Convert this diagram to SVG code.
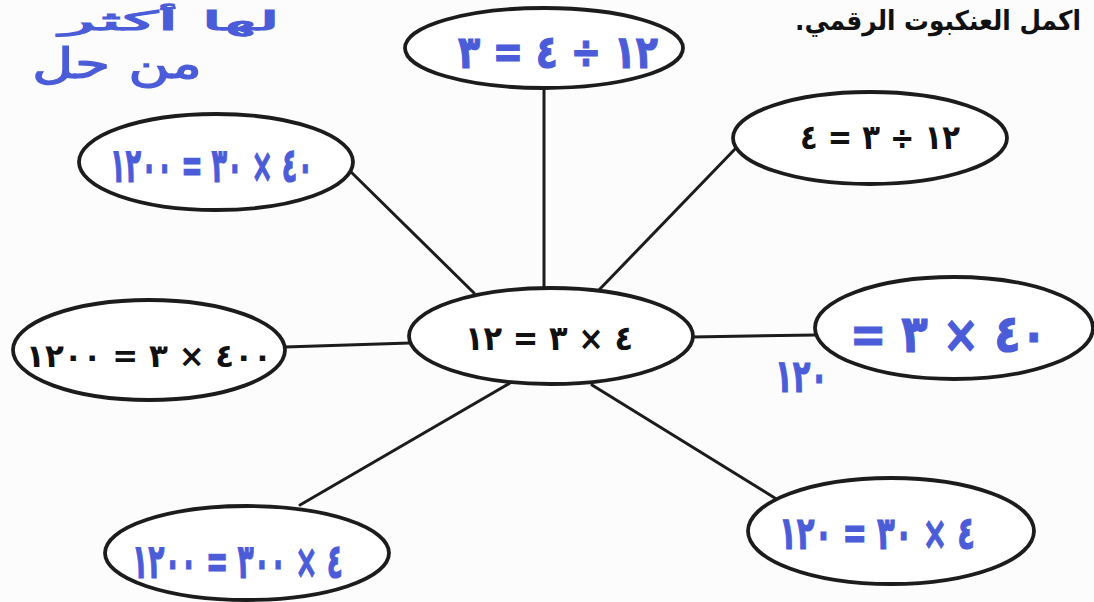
<svg xmlns="http://www.w3.org/2000/svg" width="1094" height="602" viewBox="0 0 1094 602">
<style>
.node{fill:#ffffff;stroke:#1c1c1c;stroke-width:3.8}
.conn line{stroke:#1c1c1c;stroke-width:3;stroke-linecap:round}
.pr{font-family:"DejaVu Sans","Liberation Sans",sans-serif;font-weight:bold;fill:#111;unicode-bidi:bidi-override;direction:ltr}
.hw{font-family:"DejaVu Sans","Liberation Sans",sans-serif;font-weight:bold;fill:#4b5cd8;stroke:#4b5cd8;stroke-width:1.2;unicode-bidi:bidi-override;direction:ltr}
.hwa{font-family:"DejaVu Sans",sans-serif;fill:#4b5cd8;stroke:#4b5cd8;stroke-width:1.2}
.title{font-family:"DejaVu Sans","Liberation Sans",sans-serif;font-weight:bold;fill:#111}
</style>
<rect width="1094" height="602" fill="#fcfcfc"/>
<g id="connectors" class="conn">
<line x1="544" y1="88" x2="544" y2="288"/>
<line x1="349" y1="170" x2="474" y2="293"/>
<line x1="736" y1="148" x2="598" y2="291"/>
<line x1="285" y1="347" x2="410" y2="343"/>
<line x1="692" y1="337" x2="816" y2="335"/>
<line x1="510" y1="383" x2="300" y2="505"/>
<line x1="592" y1="385" x2="778" y2="500"/>
</g>
<g id="title">
<text class="title" x="938" y="30" font-size="27" text-anchor="middle" direction="rtl" textLength="286" lengthAdjust="spacingAndGlyphs">اكمل العنكبوت الرقمي.</text>
</g>
<g id="note">
<text class="hwa" x="170" y="30" font-size="26" text-anchor="middle" direction="rtl" textLength="220" lengthAdjust="spacingAndGlyphs">لها أكثر</text>
<text class="hwa" x="117" y="78" font-size="42" text-anchor="middle" direction="rtl" textLength="170" lengthAdjust="spacingAndGlyphs">من حل</text>
</g>
<g id="node-top">
<ellipse class="node" cx="544" cy="48" rx="139" ry="40"/>
<text class="hw" x="458" y="68" font-size="46" textLength="200" lengthAdjust="spacingAndGlyphs">٣ = ٤ ÷ ١٢</text>
</g>
<g id="node-top-right">
<ellipse class="node" cx="870" cy="138" rx="137" ry="46"/>
<text class="pr" x="800" y="149" font-size="34" textLength="160" lengthAdjust="spacingAndGlyphs">٤ = ٣ ÷ ١٢</text>
</g>
<g id="node-top-left">
<ellipse class="node" cx="216" cy="162" rx="137" ry="48"/>
<text class="hw" x="110" y="182" font-size="48" textLength="203" lengthAdjust="spacingAndGlyphs">١٢٠٠ = ٣٠ × ٤٠</text>
</g>
<g id="node-left">
<ellipse class="node" cx="149" cy="350" rx="136" ry="50"/>
<text class="pr" x="26" y="367" font-size="32" textLength="246" lengthAdjust="spacingAndGlyphs">١٢٠٠ = ٣ × ٤٠٠</text>
</g>
<g id="node-center">
<ellipse class="node" cx="551" cy="336" rx="142" ry="48"/>
<text class="pr" x="465" y="350" font-size="34" textLength="168" lengthAdjust="spacingAndGlyphs">١٢ = ٣ × ٤</text>
</g>
<g id="node-right">
<ellipse class="node" cx="954" cy="328" rx="139" ry="51"/>
<text class="hw" x="850" y="352" font-size="52" textLength="197" lengthAdjust="spacingAndGlyphs">= ٣ × ٤٠</text>
<text class="hw" x="775" y="392" font-size="46" textLength="53" lengthAdjust="spacingAndGlyphs">١٢٠</text>
</g>
<g id="node-bottom-left">
<ellipse class="node" cx="247" cy="553" rx="142" ry="47"/>
<text class="hw" x="132" y="578" font-size="48" textLength="211" lengthAdjust="spacingAndGlyphs">١٢٠٠ = ٣٠٠ × ٤</text>
</g>
<g id="node-bottom-right">
<ellipse class="node" cx="891" cy="531" rx="143" ry="53"/>
<text class="hw" x="779" y="549" font-size="46" textLength="196" lengthAdjust="spacingAndGlyphs">١٢٠ = ٣٠ × ٤</text>
</g>
</svg>
